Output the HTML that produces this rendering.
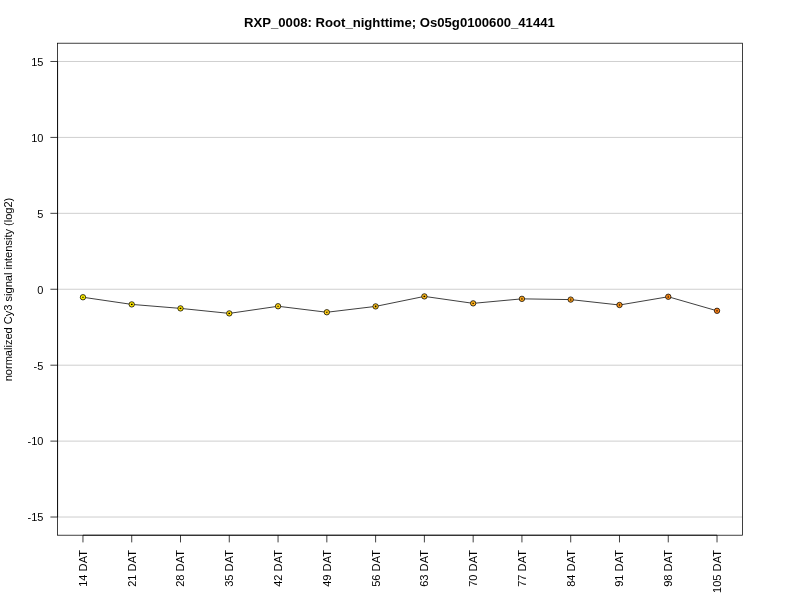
<!DOCTYPE html>
<html><head><meta charset="utf-8"><title>RXP_0008</title>
<style>
html,body{margin:0;padding:0;background:#fff;}
svg{display:block;will-change:transform;}
text{font-family:"Liberation Sans",sans-serif;fill:#000;}
.ax{font-size:11px;}
.ttl{font-size:13.14px;font-weight:bold;}
</style></head>
<body>
<svg width="800" height="600" viewBox="0 0 800 600">
<rect x="0" y="0" width="800" height="600" fill="#ffffff"/>
<g stroke="#bebebe" stroke-width="0.75" fill="none">
<line x1="57.6" y1="61.48" x2="742.4" y2="61.48"/>
<line x1="57.6" y1="137.41" x2="742.4" y2="137.41"/>
<line x1="57.6" y1="213.33" x2="742.4" y2="213.33"/>
<line x1="57.6" y1="289.26" x2="742.4" y2="289.26"/>
<line x1="57.6" y1="365.19" x2="742.4" y2="365.19"/>
<line x1="57.6" y1="441.11" x2="742.4" y2="441.11"/>
<line x1="57.6" y1="517.03" x2="742.4" y2="517.03"/>
</g>
<polyline points="82.96,297.25 131.73,304.40 180.51,308.40 229.28,313.40 278.06,306.25 326.83,312.25 375.61,306.40 424.38,296.40 473.16,303.35 521.93,298.85 570.71,299.60 619.49,305.00 668.26,296.75 717.03,310.80" fill="none" stroke="#000" stroke-width="0.75" stroke-linejoin="round"/>
<g stroke="#000" stroke-width="0.75">
<circle cx="82.96" cy="297.25" r="2.7" fill="#FFF000"/>
<circle cx="131.73" cy="304.40" r="2.7" fill="#FFE900"/>
<circle cx="180.51" cy="308.40" r="2.7" fill="#FFE200"/>
<circle cx="229.28" cy="313.40" r="2.7" fill="#FFDB0A"/>
<circle cx="278.06" cy="306.25" r="2.7" fill="#FFD414"/>
<circle cx="326.83" cy="312.25" r="2.7" fill="#FFCC18"/>
<circle cx="375.61" cy="306.40" r="2.7" fill="#FFC41A"/>
<circle cx="424.38" cy="296.40" r="2.7" fill="#FFBA1A"/>
<circle cx="473.16" cy="303.35" r="2.7" fill="#FFB11A"/>
<circle cx="521.93" cy="298.85" r="2.7" fill="#FFA81A"/>
<circle cx="570.71" cy="299.60" r="2.7" fill="#FFA01A"/>
<circle cx="619.49" cy="305.00" r="2.7" fill="#FF971A"/>
<circle cx="668.26" cy="296.75" r="2.7" fill="#FF8E1A"/>
<circle cx="717.03" cy="310.80" r="2.7" fill="#FF8418"/>
</g>
<g stroke="#000" fill="none">
<line stroke-width="0.95" x1="82.21" y1="297.25" x2="83.71" y2="297.25"/>
<path stroke-width="0.95" d="M130.98,304.20H132.48M130.98,304.60H132.48M131.73,304.20V304.60"/>
<path stroke-width="0.95" d="M179.76,308.20H181.26M179.76,308.60H181.26M180.51,308.20V308.60"/>
<path stroke-width="0.95" d="M228.53,313.20H230.03M228.53,313.60H230.03M229.28,313.20V313.60"/>
<line stroke-width="0.95" x1="277.31" y1="306.25" x2="278.81" y2="306.25"/>
<line stroke-width="0.95" x1="326.08" y1="312.25" x2="327.58" y2="312.25"/>
<path stroke-width="0.95" d="M374.86,306.00H376.36M374.86,306.80H376.36M375.61,306.00V306.80"/>
<path stroke-width="0.95" d="M423.63,296.20H425.13M423.63,296.60H425.13M424.38,296.20V296.60"/>
<line stroke-width="0.95" x1="472.41" y1="303.35" x2="473.91" y2="303.35"/>
<path stroke-width="0.75" stroke-opacity="0.65" d="M521.18,298.35H522.68M521.18,299.35H522.68M521.93,298.35V299.35"/>
<path stroke-width="0.75" stroke-opacity="0.65" d="M569.96,298.90H571.46M569.96,300.30H571.46M570.71,298.90V300.30"/>
<path stroke-width="0.75" stroke-opacity="0.65" d="M618.74,304.30H620.24M618.74,305.70H620.24M619.49,304.30V305.70"/>
<path stroke-width="0.75" stroke-opacity="0.65" d="M667.51,296.05H669.01M667.51,297.45H669.01M668.26,296.05V297.45"/>
<path stroke-width="0.75" stroke-opacity="0.65" d="M716.28,310.40H717.78M716.28,311.20H717.78M717.03,310.40V311.20"/>
</g>
<rect x="57.6" y="43.2" width="684.8" height="492.0" fill="none" stroke="#000" stroke-width="0.75"/>
<g stroke="#000" stroke-width="0.75" fill="none">
<line x1="57.6" y1="61.48" x2="57.6" y2="517.03"/>
<line x1="50.4" y1="61.48" x2="57.6" y2="61.48"/>
<line x1="50.4" y1="137.41" x2="57.6" y2="137.41"/>
<line x1="50.4" y1="213.33" x2="57.6" y2="213.33"/>
<line x1="50.4" y1="289.26" x2="57.6" y2="289.26"/>
<line x1="50.4" y1="365.19" x2="57.6" y2="365.19"/>
<line x1="50.4" y1="441.11" x2="57.6" y2="441.11"/>
<line x1="50.4" y1="517.03" x2="57.6" y2="517.03"/>
<line x1="82.96" y1="535.2" x2="717.03" y2="535.2"/>
<line x1="82.96" y1="535.2" x2="82.96" y2="542.4"/>
<line x1="131.73" y1="535.2" x2="131.73" y2="542.4"/>
<line x1="180.51" y1="535.2" x2="180.51" y2="542.4"/>
<line x1="229.28" y1="535.2" x2="229.28" y2="542.4"/>
<line x1="278.06" y1="535.2" x2="278.06" y2="542.4"/>
<line x1="326.83" y1="535.2" x2="326.83" y2="542.4"/>
<line x1="375.61" y1="535.2" x2="375.61" y2="542.4"/>
<line x1="424.38" y1="535.2" x2="424.38" y2="542.4"/>
<line x1="473.16" y1="535.2" x2="473.16" y2="542.4"/>
<line x1="521.93" y1="535.2" x2="521.93" y2="542.4"/>
<line x1="570.71" y1="535.2" x2="570.71" y2="542.4"/>
<line x1="619.49" y1="535.2" x2="619.49" y2="542.4"/>
<line x1="668.26" y1="535.2" x2="668.26" y2="542.4"/>
<line x1="717.03" y1="535.2" x2="717.03" y2="542.4"/>
</g>
<g class="ax" text-anchor="end">
<text x="43.4" y="66">15</text>
<text x="43.4" y="142">10</text>
<text x="43.4" y="218">5</text>
<text x="43.4" y="294">0</text>
<text x="43.4" y="370">-5</text>
<text x="43.4" y="445">-10</text>
<text x="43.4" y="521">-15</text>
</g>
<g class="ax" style="font-size:11.1px" text-anchor="end">
<text transform="translate(86.86,550) rotate(-90)">14 DAT</text>
<text transform="translate(135.63,550) rotate(-90)">21 DAT</text>
<text transform="translate(184.41,550) rotate(-90)">28 DAT</text>
<text transform="translate(233.18,550) rotate(-90)">35 DAT</text>
<text transform="translate(281.96,550) rotate(-90)">42 DAT</text>
<text transform="translate(330.73,550) rotate(-90)">49 DAT</text>
<text transform="translate(379.51,550) rotate(-90)">56 DAT</text>
<text transform="translate(428.28,550) rotate(-90)">63 DAT</text>
<text transform="translate(477.06,550) rotate(-90)">70 DAT</text>
<text transform="translate(525.83,550) rotate(-90)">77 DAT</text>
<text transform="translate(574.61,550) rotate(-90)">84 DAT</text>
<text transform="translate(623.38,550) rotate(-90)">91 DAT</text>
<text transform="translate(672.16,550) rotate(-90)">98 DAT</text>
<text transform="translate(720.93,550) rotate(-90)">105 DAT</text>
</g>
<text class="ax" style="font-size:11.05px" text-anchor="middle" transform="translate(11.7,289.5) rotate(-90)">normalized Cy3 signal intensity (log2)</text>
<text class="ttl" text-anchor="middle" x="399.4" y="26.7">RXP_0008: Root_nighttime; Os05g0100600_41441</text>
</svg>
</body></html>
